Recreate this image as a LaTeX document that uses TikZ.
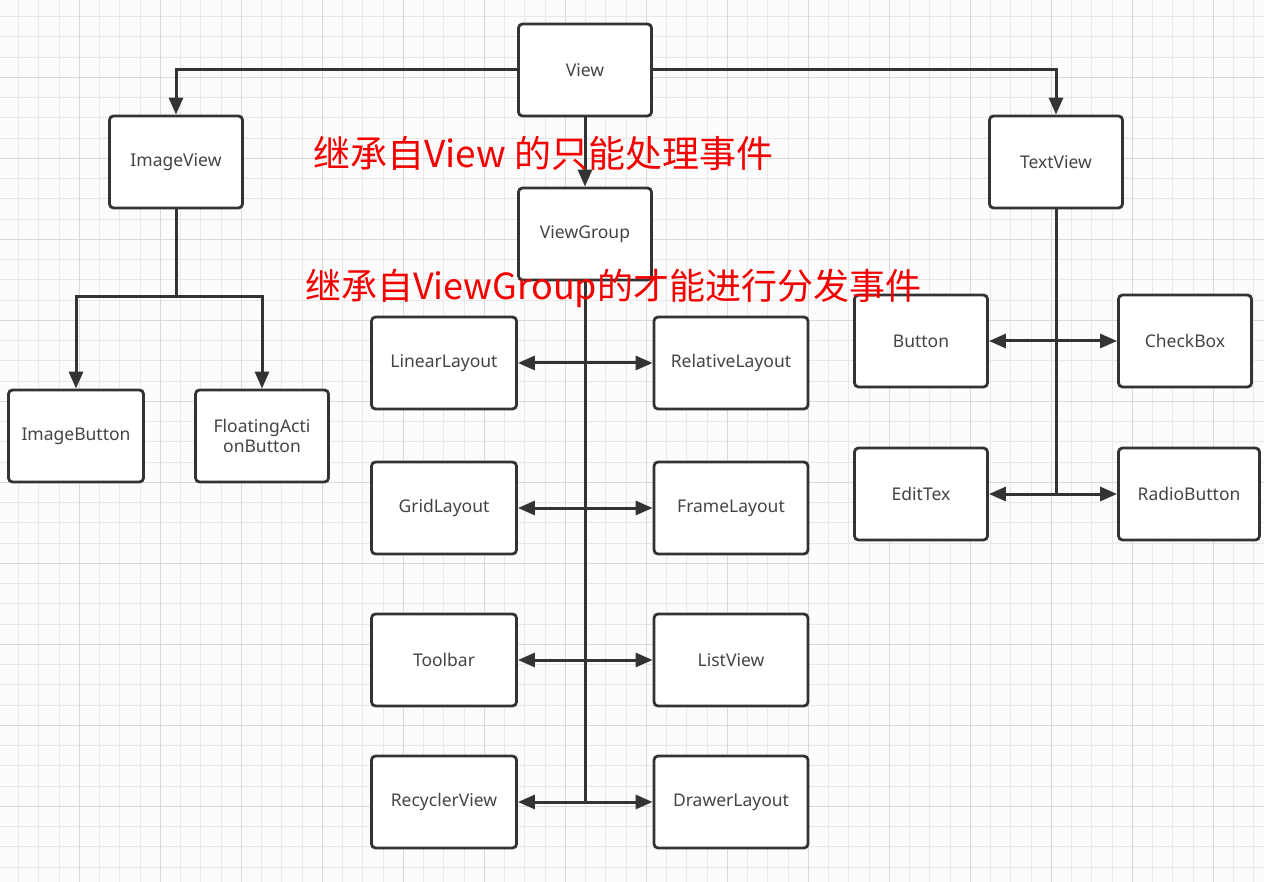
\documentclass[tikz,border=0pt]{standalone}
\usepackage{fontspec}
\setmainfont{Noto Sans}
\newfontfamily\cjk{Noto Sans CJK SC}
\usetikzlibrary{arrows.meta}
\definecolor{boxline}{HTML}{333333}
\definecolor{labeltext}{HTML}{444444}
\definecolor{gridminor}{HTML}{E8E8E8}
\definecolor{gridmajor}{HTML}{D9D9D9}
\definecolor{notered}{HTML}{F50000}
\tikzset{
  box/.style={draw=boxline, line width=2.8pt, rounded corners=4pt, fill=white,
    inner sep=0pt, text=labeltext, font=\fontsize{17.5}{20}\selectfont, align=center,
    minimum height=92pt},
  wbox/.style={box, minimum width=133pt},
  lbox/.style={box, minimum width=145pt},
  rbox/.style={box, minimum width=154pt},
  conn/.style={draw=boxline, line width=3pt},
  arr/.style={conn, -{Triangle[length=17pt,width=14pt]}},
  darr/.style={conn, {Triangle[length=17pt,width=14pt]}-{Triangle[length=17pt,width=14pt]}},
  note/.style={text=notered, font=\cjk\fontsize{37}{42}\selectfont, inner sep=0pt, anchor=west}
}
\begin{document}
\begin{tikzpicture}[x=1pt,y=-1pt]
\useasboundingbox (0,0) rectangle (1264,882);
\fill[white!98!gray] (0,0) rectangle (1264,882);
\foreach \i in {0,...,63} {
  \draw[gridminor, line width=0.9pt] ({-1.7+20.25*\i},0) -- ({-1.7+20.25*\i},882);
}
\foreach \i in {0,...,44} {
  \draw[gridminor, line width=0.9pt] (0,{-3.7+20.25*\i}) -- (1264,{-3.7+20.25*\i});
}
\foreach \i in {0,...,16} {
  \draw[gridmajor, line width=1.1pt] ({-1.7+81*\i},0) -- ({-1.7+81*\i},882);
}
\foreach \i in {0,...,11} {
  \draw[gridmajor, line width=1.1pt] (0,{-3.7+81*\i}) -- (1264,{-3.7+81*\i});
}

% nodes
\node[wbox] (View) at (585,70) {View};
\node[wbox] (ImageView) at (176,162) {ImageView};
\node[wbox] (TextView) at (1056,162) {TextView};
\node[wbox] (ViewGroup) at (585,234) {ViewGroup};

\node[lbox] (LinearLayout) at (444,363) {LinearLayout};
\node[rbox] (RelativeLayout) at (731,363) {RelativeLayout};
\node[lbox] (GridLayout) at (444,508) {GridLayout};
\node[rbox] (FrameLayout) at (731,508) {FrameLayout};
\node[lbox] (Toolbar) at (444,660) {Toolbar};
\node[rbox] (ListView) at (731,660) {ListView};
\node[lbox] (RecyclerView) at (444,802) {RecyclerView};
\node[rbox] (DrawerLayout) at (731,802) {DrawerLayout};

\node[box, minimum width=135pt] (ImageButton) at (76,436) {ImageButton};
\node[wbox] (FAB) at (262,436) {FloatingActi\\onButton};

\node[wbox] (Button) at (921,341) {Button};
\node[wbox] (CheckBox) at (1185,341) {CheckBox};
\node[wbox] (EditTex) at (921,494) {EditTex};
\node[box, minimum width=141pt] (RadioButton) at (1189,494) {RadioButton};

% connectors from View
\draw[arr] (View.west) -| (ImageView.north);
\draw[arr] (View.east) -| (TextView.north);
\draw[arr] (View.south) -- (ViewGroup.north);

% ImageView branch
\coordinate (ivj) at (176,297);
\draw[conn] (ImageView.south) -- (ivj);
\draw[arr] (ivj) -| (ImageButton.north);
\draw[arr] (ivj) -| (FAB.north);

% ViewGroup trunk
\coordinate (vgend) at (585,802);
\draw[conn] (ViewGroup.south) -- (vgend);
\draw[darr] (LinearLayout.east) -- (RelativeLayout.west);
\draw[darr] (GridLayout.east) -- (FrameLayout.west);
\draw[darr] (Toolbar.east) -- (ListView.west);
\draw[darr] (RecyclerView.east) -- (DrawerLayout.west);

% TextView trunk
\coordinate (tvend) at (1056,494);
\draw[conn] (TextView.south) -- (tvend);
\draw[darr] (Button.east) -- (CheckBox.west);
\draw[darr] (EditTex.east) -- (RadioButton.west);

% notes
\node[note] (note1) at (313,153) {继承自View 的只能处理事件};
\node[note, font=\cjk\fontsize{36}{41}\selectfont] (note2) at (305,288) {继承自ViewGroup的才能进行分发事件};
\end{tikzpicture}
\end{document}
